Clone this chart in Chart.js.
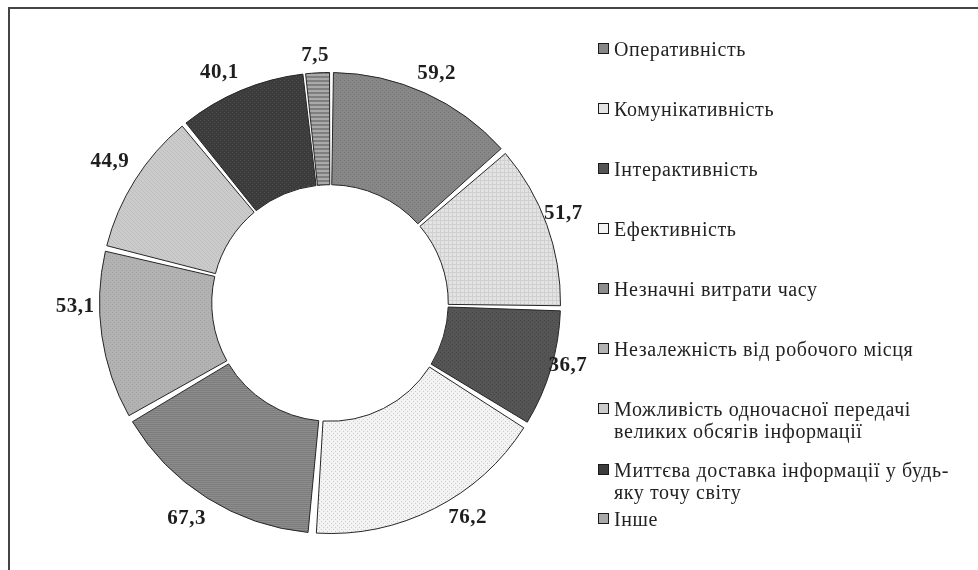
<!DOCTYPE html>
<html>
<head>
<meta charset="utf-8">
<script src="https://cdn.jsdelivr.net/npm/chart.js@4.4.1/dist/chart.umd.min.js"></script>
<style>
    html, body { margin: 0; padding: 0; background: #fff; }
    #frame {
        position: absolute; left: 8px; top: 7px; width: 980px; height: 580px;
        border-top: 2px solid #444; border-left: 2px solid #444;
    }
    #chart { position: absolute; left: 0; top: 0; }
    #legend {
        position: absolute; left: 598px; top: 38px; width: 375px;
        font-family: "Liberation Serif", serif; font-size: 20px; line-height: 22px;
        letter-spacing: 0.6px; color: #222;
    }
    .item { position: relative; padding-left: 16px; margin-bottom: 38px; }
    .item .box {
        position: absolute; left: 0; top: 5px; width: 9px; height: 9px;
        border: 1px solid #1a1a1a;
    }
    .item.two { margin-bottom: 17px; }
    .item.two.last2 { margin-bottom: 5px; }
</style>
</head>
<body>
<div id="frame"></div>
<canvas id="chart" width="978" height="570"></canvas>
<div id="legend"></div>
<script>
// data, clockwise from 12 o'clock
const categories = [
    'Оперативність',
    'Комунікативність',
    'Інтерактивність',
    'Ефективність',
    'Незначні витрати часу',
    'Незалежність від робочого місця',
    ['Можливість одночасної передачі', 'великих обсягів інформації'],
    ['Миттєва доставка інформації у будь-', 'яку точу світу'],
    'Інше'
];
const shares = [59.2, 51.7, 36.7, 76.2, 67.3, 53.1, 44.9, 40.1, 7.5];

// grey fills + a faint texture each, like the printed original
const baseColors = ['#878787', '#e3e3e3', '#555555', '#f3f3f3', '#8d8d8d', '#b2b2b2', '#cbcbcb', '#3c3c3c', '#a9a9a9'];
const textureColors = ['#777777', '#d0d0d0', '#484848', '#cdcdcd', '#7c7c7c', '#a3a3a3', '#bebebe', '#4c4c4c', '#7f7f7f'];
const textureKinds = ['check', 'grid', 'check', 'dots', 'hlines', 'check', 'diag', 'check', 'stripes'];

function makeTexture(base, ink, kind) {
    const c = document.createElement('canvas');
    c.width = 4; c.height = 4;
    const g = c.getContext('2d');
    g.fillStyle = base;
    g.fillRect(0, 0, 4, 4);
    g.fillStyle = ink;
    if (kind === 'check') { g.fillRect(0, 0, 1, 1); g.fillRect(2, 2, 1, 1); }
    if (kind === 'grid') { g.fillRect(0, 0, 4, 1); g.fillRect(0, 0, 1, 4); }
    if (kind === 'dots') { g.fillRect(1, 1, 1, 1); g.fillRect(3, 3, 1, 1); }
    if (kind === 'hlines') { g.fillRect(0, 0, 4, 1); g.fillRect(0, 2, 4, 1); }
    if (kind === 'diag') { g.fillRect(0, 0, 1, 1); g.fillRect(1, 1, 1, 1); g.fillRect(2, 2, 1, 1); g.fillRect(3, 3, 1, 1); }
    if (kind === 'stripes') { g.fillRect(0, 0, 4, 2); }
    return document.getElementById('chart').getContext('2d').createPattern(c, 'repeat');
}

const fills = baseColors.map((b, i) => makeTexture(b, textureColors[i], textureKinds[i]));

// the original labels were dragged by hand a bit, so nudge them
const labelNudge = [[1, 3], [-7, -3], [-7, -10], [22, -13], [-7, -1], [-2, -33], [-4, -5], [-12, 5], [-1, 8]];

const outsideLabels = {
    id: 'outsideLabels',
    afterDatasetsDraw(chart) {
        const ctx = chart.ctx;
        const arcs = chart.getDatasetMeta(0).data;
        ctx.save();
        ctx.font = 'bold 21px "Liberation Serif", serif';
        ctx.letterSpacing = '0.5px';
        ctx.fillStyle = '#1e1e1e';
        ctx.textAlign = 'center';
        ctx.textBaseline = 'middle';
        arcs.forEach((arc, i) => {
            const mid = (arc.startAngle + arc.endAngle) / 2;
            const r = arc.outerRadius + 31;
            const x = arc.x + Math.cos(mid) * r + labelNudge[i][0];
            const y = arc.y + Math.sin(mid) * r + labelNudge[i][1];
            ctx.fillText(shares[i].toFixed(1).replace('.', ','), x, y);
        });
        ctx.restore();
    }
};

new Chart(document.getElementById('chart'), {
    type: 'doughnut',
    data: {
        labels: categories,
        datasets: [{
            data: shares,
            backgroundColor: fills,
            borderColor: '#262626',
            borderWidth: 1,
            spacing: 12
        }]
    },
    options: {
        responsive: false,
        animation: false,
        cutout: '50%',
        layout: { padding: { left: 99, right: 417, top: 72, bottom: 36 } },
        plugins: {
            legend: { display: false },
            tooltip: { enabled: false }
        }
    },
    plugins: [outsideLabels]
});

// legend as html
const legend = document.getElementById('legend');
categories.forEach((cat, i) => {
    const item = document.createElement('div');
    item.className = 'item';
    const lines = Array.isArray(cat) ? cat : [cat];
    if (lines.length > 1) item.classList.add('two');
    if (i === 7) item.classList.add('last2');
    const box = document.createElement('span');
    box.className = 'box';
    box.style.background = baseColors[i];
    item.appendChild(box);
    lines.forEach(line => {
        const d = document.createElement('div');
        d.textContent = line;
        item.appendChild(d);
    });
    legend.appendChild(item);
});
</script>
</body>
</html>
